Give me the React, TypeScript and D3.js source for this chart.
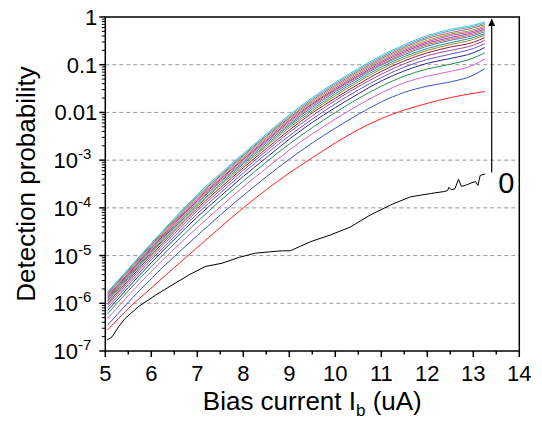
import React, { useRef, useEffect } from "react";
import * as d3 from "d3";

// bias current grid (uA) for the coloured curves
const biasCurrent = [5.05, 5.5, 6, 6.5, 7, 7.5, 8, 8.5, 9, 9.5, 10, 10.5, 11, 11.5, 12, 12.5, 13, 13.25];

// log10(detection probability), bottom coloured curve first
const curve1 = [-6.56, -6.11, -5.68, -5.25, -4.83, -4.41, -4.0, -3.62, -3.27, -2.95, -2.64, -2.36, -2.13, -1.95, -1.81, -1.69, -1.6, -1.56];
const curve2 = [-6.46, -5.98, -5.48, -5.02, -4.58, -4.15, -3.74, -3.35, -2.98, -2.64, -2.33, -2.04, -1.78, -1.58, -1.45, -1.36, -1.22, -1.08];
const curve3 = [-6.32, -5.84, -5.33, -4.86, -4.41, -3.98, -3.56, -3.17, -2.79, -2.45, -2.14, -1.85, -1.59, -1.38, -1.24, -1.14, -1.01, -0.88];
const curve4 = [-6.22, -5.74, -5.23, -4.75, -4.29, -3.85, -3.44, -3.04, -2.66, -2.32, -2.0, -1.71, -1.45, -1.24, -1.09, -0.99, -0.86, -0.75];
const curve5 = [-6.15, -5.67, -5.15, -4.66, -4.19, -3.76, -3.34, -2.95, -2.56, -2.21, -1.9, -1.61, -1.34, -1.13, -0.97, -0.87, -0.75, -0.64];
const curve6 = [-6.09, -5.61, -5.09, -4.6, -4.12, -3.69, -3.27, -2.87, -2.49, -2.14, -1.82, -1.53, -1.27, -1.05, -0.89, -0.78, -0.66, -0.56];
const curve7 = [-6.04, -5.56, -5.04, -4.54, -4.06, -3.63, -3.21, -2.81, -2.42, -2.07, -1.75, -1.46, -1.2, -0.98, -0.81, -0.7, -0.59, -0.49];
const curve8 = [-6.0, -5.52, -4.99, -4.49, -4.01, -3.58, -3.16, -2.76, -2.37, -2.01, -1.7, -1.41, -1.14, -0.92, -0.75, -0.63, -0.53, -0.43];
const curve9 = [-5.96, -5.48, -4.95, -4.45, -3.97, -3.53, -3.12, -2.71, -2.32, -1.97, -1.65, -1.36, -1.09, -0.87, -0.7, -0.58, -0.47, -0.38];
const curve10 = [-5.94, -5.46, -4.93, -4.42, -3.94, -3.5, -3.08, -2.68, -2.28, -1.93, -1.61, -1.32, -1.05, -0.83, -0.66, -0.54, -0.43, -0.35];
const curve11 = [-5.91, -5.43, -4.9, -4.39, -3.9, -3.46, -3.05, -2.64, -2.25, -1.89, -1.57, -1.28, -1.01, -0.79, -0.61, -0.49, -0.39, -0.31];
const curve12 = [-5.89, -5.41, -4.87, -4.37, -3.88, -3.44, -3.02, -2.61, -2.22, -1.86, -1.54, -1.25, -0.99, -0.76, -0.58, -0.46, -0.36, -0.28];
const curve13 = [-5.87, -5.39, -4.85, -4.34, -3.85, -3.41, -2.99, -2.59, -2.19, -1.83, -1.52, -1.23, -0.96, -0.73, -0.55, -0.43, -0.33, -0.25];
const curve14 = [-5.85, -5.37, -4.83, -4.32, -3.82, -3.39, -2.97, -2.56, -2.16, -1.81, -1.49, -1.2, -0.93, -0.7, -0.52, -0.39, -0.3, -0.22];
const curve15 = [-5.82, -5.34, -4.81, -4.29, -3.8, -3.36, -2.94, -2.53, -2.13, -1.78, -1.46, -1.17, -0.9, -0.67, -0.49, -0.36, -0.27, -0.19];
const curve16 = [-5.8, -5.32, -4.78, -4.27, -3.77, -3.33, -2.91, -2.5, -2.11, -1.75, -1.43, -1.14, -0.87, -0.64, -0.45, -0.33, -0.23, -0.16];
const curve17 = [-5.78, -5.3, -4.76, -4.24, -3.75, -3.31, -2.89, -2.48, -2.08, -1.72, -1.4, -1.11, -0.84, -0.61, -0.42, -0.29, -0.2, -0.13];
const curve18 = [-5.76, -5.28, -4.74, -4.22, -3.72, -3.28, -2.86, -2.45, -2.05, -1.69, -1.37, -1.08, -0.81, -0.58, -0.39, -0.26, -0.17, -0.1];

// curve "0" (black) has its own points
const blackBias = [5.04, 5.15, 5.29, 5.43, 5.72, 6.09, 6.45, 6.81, 7.17, 7.54, 7.9, 8.26, 8.59, 8.85, 9.02, 9.46, 9.89, 10.33, 10.76, 11.2, 11.63, 12.07, 12.35, 12.44, 12.47, 12.52, 12.6, 12.68, 12.74, 12.85, 12.95, 13.05, 13.1, 13.15, 13.26];
const blackLogP = [-6.77, -6.7, -6.49, -6.32, -6.07, -5.83, -5.62, -5.41, -5.23, -5.16, -5.04, -4.95, -4.92, -4.9, -4.9, -4.71, -4.57, -4.4, -4.15, -3.94, -3.77, -3.7, -3.66, -3.64, -3.57, -3.62, -3.6, -3.4, -3.55, -3.52, -3.48, -3.45, -3.53, -3.32, -3.29];

const curves = [curve1, curve2, curve3, curve4, curve5, curve6, curve7, curve8, curve9, curve10, curve11, curve12, curve13, curve14, curve15, curve16, curve17, curve18];
const curveColors = [
  "#ff2020", "#3955c4", "#d066c8", "#1f9050", "#2a2a8a", "#6658c0", "#9a4c9e", "#8e1e3c", "#8c8a2c",
  "#2a8c8c", "#4a6fd8", "#d07a30", "#8a3fd0", "#e03c88", "#7fa83a", "#c05a70", "#5a9fc0", "#3ec4d6",
];

const xTicks = [5, 6, 7, 8, 9, 10, 11, 12, 13, 14];
const yDecades = [-7, -6, -5, -4, -3, -2, -1, 0];

const font = "Arial, 'Liberation Sans', sans-serif";

const App = () => {
  const svgRef = useRef(null);
  const width = 542;
  const height = 422;

  useEffect(() => {
    const svg = d3.select(svgRef.current);
    svg.selectAll("*").remove();

    const x = d3.scaleLinear().domain([5, 14]).range([105.3, 519.3]);
    const y = d3.scaleLog().domain([1e-7, 1]).range([351, 17]);

    // dashed grid at the decades
    svg
      .append("g")
      .selectAll("line")
      .data(yDecades.filter((d) => d > -7 && d < 0))
      .enter()
      .append("line")
      .attr("x1", x(5))
      .attr("x2", x(14))
      .attr("y1", (d) => y(10 ** d))
      .attr("y2", (d) => y(10 ** d))
      .attr("stroke", "#9a9a9a")
      .attr("stroke-width", 1)
      .attr("stroke-dasharray", "4,3");

    const smooth = d3
      .line()
      .curve(d3.curveMonotoneX)
      .x((d) => x(d[0]))
      .y((d) => y(10 ** d[1]));

    const line = d3
      .line()
      .x((d) => x(d[0]))
      .y((d) => y(10 ** d[1]));

    // coloured curves, top one drawn last
    curves.forEach((c, i) => {
      svg
        .append("path")
        .datum(c.map((v, j) => [biasCurrent[j], v]))
        .attr("fill", "none")
        .attr("stroke", curveColors[i])
        .attr("stroke-width", 1)
        .attr("d", smooth);
    });

    svg
      .append("path")
      .datum(blackLogP.map((v, j) => [blackBias[j], v]))
      .attr("fill", "none")
      .attr("stroke", "#000")
      .attr("stroke-width", 1)
      .attr("d", line);

    // frame
    svg
      .append("rect")
      .attr("x", x(5))
      .attr("y", y(1))
      .attr("width", x(14) - x(5))
      .attr("height", y(1e-7) - y(1))
      .attr("fill", "none")
      .attr("stroke", "#000")
      .attr("stroke-width", 1.5);

    // x axis ticks
    const xAxis = svg.append("g").attr("transform", `translate(0, ${y(1e-7)})`);
    xAxis
      .selectAll("line.major")
      .data(xTicks)
      .enter()
      .append("line")
      .attr("x1", (d) => x(d))
      .attr("x2", (d) => x(d))
      .attr("y1", 0)
      .attr("y2", 6)
      .attr("stroke", "#000")
      .attr("stroke-width", 1.5);
    xAxis
      .selectAll("line.minor")
      .data(xTicks.slice(0, -1).map((d) => d + 0.5))
      .enter()
      .append("line")
      .attr("x1", (d) => x(d))
      .attr("x2", (d) => x(d))
      .attr("y1", 0)
      .attr("y2", 3.5)
      .attr("stroke", "#000")
      .attr("stroke-width", 1.5);
    xAxis
      .selectAll("text")
      .data(xTicks)
      .enter()
      .append("text")
      .attr("x", (d) => x(d))
      .attr("y", 30)
      .attr("text-anchor", "middle")
      .attr("font-family", font)
      .attr("font-size", 22)
      .text((d) => d);

    // y axis ticks
    const yAxis = svg.append("g").attr("transform", `translate(${x(5)}, 0)`);
    const minor = [];
    yDecades.slice(0, -1).forEach((e) => {
      for (let m = 2; m <= 9; m++) minor.push(m * 10 ** e);
    });
    yAxis
      .selectAll("line.minor")
      .data(minor)
      .enter()
      .append("line")
      .attr("x1", -3.5)
      .attr("x2", 0)
      .attr("y1", (d) => y(d))
      .attr("y2", (d) => y(d))
      .attr("stroke", "#000")
      .attr("stroke-width", 1);
    yAxis
      .selectAll("line.major")
      .data(yDecades)
      .enter()
      .append("line")
      .attr("x1", -6)
      .attr("x2", 0)
      .attr("y1", (d) => y(10 ** d))
      .attr("y2", (d) => y(10 ** d))
      .attr("stroke", "#000")
      .attr("stroke-width", 1.5);

    yDecades.forEach((e) => {
      const t = yAxis
        .append("text")
        .attr("x", e >= -2 ? -8 : -14)
        .attr("y", y(10 ** e) + 8)
        .attr("text-anchor", "end")
        .attr("font-family", font)
        .attr("font-size", 22);
      if (e === 0) t.text("1");
      else if (e === -1) t.text("0.1");
      else if (e === -2) t.text("0.01");
      else {
        t.append("tspan").text("10");
        t.append("tspan").attr("dy", -9).attr("font-size", 15).text(String(e));
      }
    });

    // axis titles
    svg
      .append("text")
      .attr("transform", `translate(35, ${(y(1) + y(1e-7)) / 2}) rotate(-90)`)
      .attr("text-anchor", "middle")
      .attr("font-family", font)
      .attr("font-size", 26)
      .text("Detection probability");

    const xt = svg
      .append("text")
      .attr("x", (x(5) + x(14)) / 2)
      .attr("y", 410)
      .attr("text-anchor", "middle")
      .attr("font-family", font)
      .attr("font-size", 26);
    xt.append("tspan").text("Bias current I");
    xt.append("tspan").attr("dy", 6).attr("font-size", 17).text("b");
    xt.append("tspan").attr("dy", -6).text(" (uA)");

    // arrow pointing from curve 0 upwards
    svg
      .append("defs")
      .append("marker")
      .attr("id", "head")
      .attr("viewBox", "0 0 10 10")
      .attr("refX", 10)
      .attr("refY", 5)
      .attr("markerWidth", 10)
      .attr("markerHeight", 7)
      .attr("markerUnits", "userSpaceOnUse")
      .attr("orient", "auto")
      .append("path")
      .attr("d", "M0,0 L10,5 L0,10 z")
      .attr("fill", "#000");

    svg
      .append("line")
      .attr("x1", x(13.4))
      .attr("x2", x(13.4))
      .attr("y1", y(10 ** -3.26))
      .attr("y2", y(10 ** -0.04))
      .attr("stroke", "#000")
      .attr("stroke-width", 1.2)
      .attr("marker-end", "url(#head)");

    svg
      .append("text")
      .attr("x", x(13.72))
      .attr("y", y(10 ** -3.69))
      .attr("text-anchor", "middle")
      .attr("font-family", font)
      .attr("font-size", 29)
      .text("0");
  }, []);

  return (
    <svg
      ref={svgRef}
      width={width}
      height={height}
      style={{ position: "absolute", left: 0, top: 0, background: "#fff" }}
    ></svg>
  );
};

export default App;
